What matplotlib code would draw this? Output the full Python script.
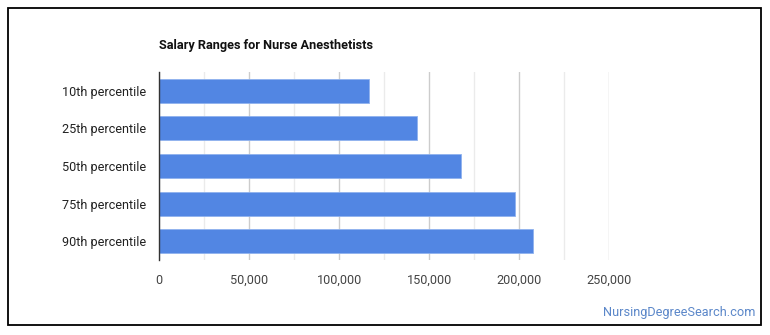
import matplotlib
matplotlib.use("Agg")
import matplotlib.pyplot as plt
from matplotlib.patches import Rectangle
from matplotlib.ticker import FuncFormatter, MultipleLocator

categories = ["10th percentile", "25th percentile", "50th percentile", "75th percentile", "90th percentile"]
salaries = [116700, 143100, 167600, 197800, 207800]
xticks = [0, 50000, 100000, 150000, 200000, 250000]
title = "Salary Ranges for Nurse Anesthetists"
source = "NursingDegreeSearch.com"

plt.rcParams['font.family'] = ['Roboto', 'DejaVu Sans']

W, H = 770, 335
fig = plt.figure(figsize=(W / 100, H / 100), dpi=100)
fig.patch.set_facecolor("white")

ax = fig.add_axes([159.3 / W, (H - 260) / H, 450 / W, 188 / H])
y = list(range(len(categories)))
ax.barh(y, salaries, height=0.64, color="#5286e3", edgecolor="#8fb2ee", linewidth=0.6, zorder=3)
ax.set_ylim(len(categories) - 0.5, -0.5)
ax.set_xlim(0, 250000)
ax.set_yticks(y)
ax.set_yticklabels(categories, fontsize=9.1, color="#222222")
ax.set_xticks(xticks)
ax.xaxis.set_minor_locator(MultipleLocator(25000))
ax.xaxis.set_major_formatter(FuncFormatter(lambda v, p: f"{int(v):,}"))
ax.tick_params(axis="x", which="both", length=0, labelsize=9.1, labelcolor="#444444", pad=10)
ax.tick_params(axis="y", length=0, pad=9.8)
ax.grid(axis="x", which="major", color="#cccccc", linewidth=1, zorder=0)
ax.grid(axis="x", which="minor", color="#ebebeb", linewidth=1, zorder=0)
for s in ["top", "right", "bottom"]:
    ax.spines[s].set_visible(False)
ax.spines["left"].set_color("#333333")
ax.spines["left"].set_linewidth(1)
ax.spines["left"].set_zorder(4)

fig.text(159.3 / W, 1 - 45 / H, title, fontsize=9.2, fontweight="bold", color="#111111",
         ha="left", va="center")
fig.text(755 / W, 1 - 312.5 / H, source, fontsize=9.2, color="#5b87c9", ha="right", va="center")

fig.patches.append(Rectangle((7.5 / W, (H - 324.5) / H), 753 / W, 317 / H,
                             transform=fig.transFigure, fill=False, edgecolor="black",
                             linewidth=1.3))

fig.savefig("out.png", dpi=100, facecolor="white")
